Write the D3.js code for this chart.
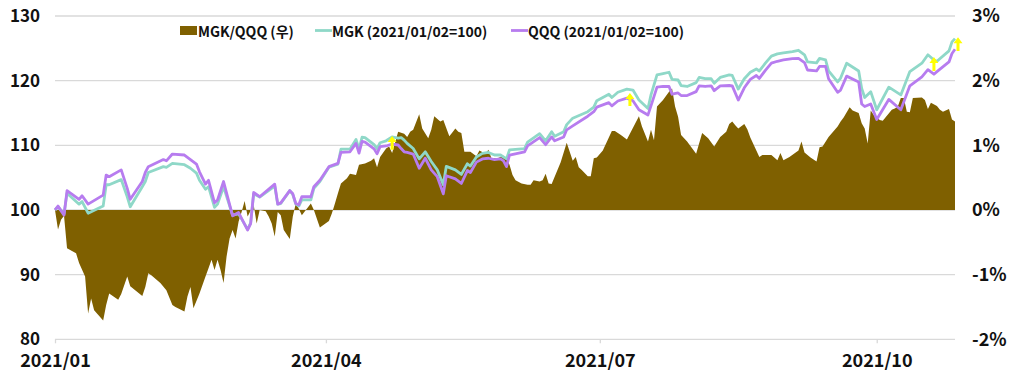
<!DOCTYPE html>
<html>
<head>
<meta charset="utf-8">
<script src="https://cdn.jsdelivr.net/npm/d3@7"></script>
<style>
body { margin: 0; background: #fff; }
text { font-family: 'Noto Sans CJK KR', 'Noto Sans', sans-serif; fill: #111; }
</style>
</head>
<body>
<div id="chart"></div>
<script>
// MGK / QQQ indexed to 2021/01/02 = 100, ratio on right axis (%)
var lineDates = [
	'01-01','01-02','01-04','01-05','01-09','01-10','01-12','01-17','01-18','01-19','01-23','01-25','01-26','01-30','01-31',
	'02-01','02-06','02-07','02-09','02-13','02-15','02-17','02-18','02-20','02-21','02-23','02-24','02-26',
	'03-01','03-03','03-06','03-07','03-08','03-10','03-15','03-16','03-17','03-20','03-21','03-22','03-23','03-24','03-27','03-28','03-30',
	'04-02','04-05','04-06','04-09','04-11','04-12','04-13','04-14','04-17','04-18','04-19','04-21','04-23','04-25','04-26','04-27','04-28','04-30',
	'05-02','05-04','05-06','05-08','05-10','05-11','05-14','05-16','05-18','05-19','05-21','05-23','05-25','05-27','05-29','05-30','05-31',
	'06-01','06-06','06-07','06-11','06-13','06-15','06-16','06-19','06-20','06-22','06-27','06-29','06-30',
	'07-04','07-05','07-07','07-10','07-12','07-14','07-17','07-18','07-20','07-22','07-24','07-25','07-27','07-28','07-30',
	'08-02','08-03','08-05','08-07','08-08','08-10','08-13','08-14','08-16','08-18','08-20','08-22','08-23','08-25','08-27','08-29','08-31',
	'09-03','09-05','09-07','09-08','09-11','09-12','09-14','09-15','09-18','09-19','09-21','09-25','09-26','09-27','09-29',
	'10-01','10-05','10-09','10-12','10-16','10-18','10-20','10-21','10-25','10-26','10-27'
];
var mgkValues = [
	100, 100.5, 99.4, 102.6, 100.9, 101.3, 99.5, 100.6, 103.9, 103.9, 104.7, 102.05, 100.5, 103.6, 104.4,
	105.8, 106.7, 106.6, 107.2, 107.0, 106.45, 105.7, 104.6, 103.2, 103.6, 100.4, 100.9, 103.6,
	99.2, 99.4, 97.0, 98.0, 102.5, 102.0, 103.7, 100.9, 101.0, 103.0, 102.4, 100.9, 100.6, 101.55, 101.55, 103.35, 104.4,
	106.6, 107.1, 109.4, 109.4, 110.9, 109.4, 111.25, 111.2, 110.1, 109.5, 110.4, 110.7, 111.3, 111.1, 111.2, 110.8, 110.3, 109.5,
	107.9, 109.0, 107.5, 106.2, 103.9, 106.75, 106.2, 105.5, 107.15, 106.8, 108.2, 108.75, 108.9, 108.5, 108.5, 108.2, 107.9,
	109.3, 109.5, 110.5, 111.8, 110.7, 112.1, 111.4, 112.1, 113.2, 114.2, 115.2, 115.9, 116.9,
	117.9, 117.4, 118.2, 118.7, 118.55, 117.0, 115.7, 117.8, 120.9, 121.1, 121.3, 120.2, 120.1, 119.25, 119.1,
	119.7, 120.5, 120.3, 120.3, 119.6, 120.5, 120.9, 120.8, 118.7, 120.3, 121.3, 121.8, 121.5, 122.7, 123.8, 124.15, 124.3,
	124.5, 124.7, 124.0, 122.9, 122.75, 123.45, 123.2, 121.5, 119.8, 120.4, 122.7, 121.5, 118.8, 117.4, 118.3,
	115.5, 119.0, 117.8, 121.4, 122.7, 124.0, 123.2, 123.0, 124.6, 126.0, 126.5
];
var qqqValues = [
	100, 100.6, 99.2, 103.0, 101.65, 102.2, 100.9, 102.3, 105.4, 105.15, 106.2, 103.35, 101.65, 104.4, 105.8,
	106.7, 107.8, 107.6, 108.65, 108.5, 107.8, 107.1, 105.9, 104.0, 104.6, 101.1, 101.55, 104.4,
	99.1, 99.6, 96.9, 97.9, 102.7, 102.05, 104.0, 100.9, 101.1, 103.0, 102.5, 101.0, 100.8, 102.05, 102.05, 103.6, 104.6,
	106.7, 107.2, 108.9, 109.0, 110.3, 108.8, 110.6, 110.5, 109.45, 108.7, 109.8, 109.9, 110.2, 110.05, 109.5, 109.0, 108.9, 108.65,
	106.45, 108.0, 106.2, 105.15, 102.5, 105.3, 104.8, 104.1, 106.1, 105.8, 107.4, 107.9, 108.0, 107.8, 107.9, 107.6, 106.7,
	108.5, 109.0, 109.9, 111.2, 110.1, 111.3, 110.7, 111.3, 112.4, 113.0, 114.5, 115.2, 115.9,
	116.6, 116.1, 116.85, 117.3, 116.9, 115.5, 114.7, 116.1, 119.0, 119.1, 119.1, 117.9, 118.1, 117.7, 117.7,
	118.3, 119.2, 119.1, 119.2, 118.45, 119.2, 119.25, 119.2, 117.0, 118.9, 120.2, 120.8, 120.35, 121.6, 122.7, 123.0, 123.2,
	123.4, 123.45, 122.8, 121.65, 121.5, 122.2, 122.2, 120.3, 118.2, 118.55, 120.7, 119.8, 116.4, 116.0, 116.4,
	114.0, 117.1, 115.5, 119.2, 120.6, 121.7, 121.0, 121.4, 122.9, 124.2, 124.85
];
var ratioDates = [
	'01-01','01-02','01-03','01-04','01-05','01-08','01-09','01-11','01-12','01-13','01-14','01-17','01-18','01-19','01-22','01-23','01-25','01-26','01-30','01-31',
	'02-01','02-02','02-05','02-07','02-09','02-10','02-13','02-14','02-15','02-16','02-18','02-20','02-21','02-22','02-23','02-24','02-25','02-26','02-27','02-28',
	'03-01','03-02','03-03','03-04','03-05','03-06','03-08','03-09','03-10','03-12','03-13','03-14','03-15','03-16','03-17','03-18','03-20','03-21','03-22','03-23','03-24','03-27','03-28','03-30',
	'04-02','04-03','04-04','04-05','04-06','04-08','04-09','04-11','04-12','04-14','04-16','04-17','04-18','04-19','04-21','04-22','04-23','04-25','04-27','04-28','04-29','04-30',
	'05-02','05-03','05-05','05-06','05-07','05-09','05-10','05-12','05-13','05-14','05-15','05-16','05-17','05-19','05-21','05-22','05-24','05-25','05-26','05-28','05-30','05-31',
	'06-01','06-02','06-03','06-05','06-07','06-08','06-09','06-11','06-12','06-13','06-14','06-15','06-18','06-20','06-22','06-23','06-24','06-25','06-27','06-28','06-29','06-30',
	'07-02','07-04','07-05','07-06','07-08','07-10','07-14','07-15','07-17','07-18','07-19','07-20','07-22','07-24','07-25','07-26','07-27','07-28','07-30',
	'08-02','08-04','08-06','08-08','08-10','08-12','08-13','08-14','08-15','08-16','08-18','08-19','08-20','08-23','08-24','08-27','08-29','08-30','08-31',
	'09-02','09-05','09-06','09-07','09-09','09-11','09-12','09-13','09-15','09-18','09-19','09-20','09-22','09-23','09-25','09-26','09-27','09-28','09-29','09-30',
	'10-02','10-03','10-06','10-07','10-08','10-09','10-10','10-11','10-12','10-13','10-16','10-17','10-18','10-19','10-21','10-22','10-23','10-25','10-26','10-27'
];
var ratioValues = [
	0, -0.30, -0.15, -0.09, -0.59, -0.67, -0.82, -1.03, -1.60, -1.37, -1.55, -1.71, -1.47, -1.29, -1.39, -1.30, -1.03, -1.18, -1.33, -1.19,
	-0.98, -1.01, -1.13, -1.24, -1.47, -1.50, -1.57, -1.34, -1.19, -1.52, -1.29, -1.03, -0.90, -0.77, -0.93, -0.77, -0.93, -1.13, -0.72, -0.44,
	-0.31, -0.44, -0.18, -0.03, 0.14, -0.10, 0.08, -0.21, 0, -0.02, -0.10, -0.21, -0.41, -0.03, -0.08, -0.31, -0.45, -0.10, 0.10, 0.02, -0.08, 0.10, 0, -0.27,
	-0.17, -0.05, 0.10, 0.26, 0.41, 0.49, 0.56, 0.54, 0.70, 0.72, 0.76, 0.80, 0.66, 0.82, 0.95, 0.98, 0.88, 1.21, 1.18, 1.13, 1.21, 1.24,
	1.48, 1.26, 1.11, 1.24, 1.45, 1.37, 1.39, 1.14, 1.20, 1.26, 1.21, 1.19, 0.90, 0.90, 0.83, 0.92, 0.87, 0.93, 0.80, 0.80, 0.84, 0.79,
	0.70, 0.54, 0.46, 0.41, 0.39, 0.39, 0.46, 0.44, 0.46, 0.56, 0.41, 0.40, 0.74, 1.04, 0.76, 0.82, 0.66, 0.62, 0.52, 0.52, 0.80, 0.81,
	0.92, 1.12, 1.22, 1.22, 1.16, 1.09, 1.45, 1.29, 1.06, 1.24, 1.08, 1.60, 1.70, 1.83, 1.88, 1.60, 1.44, 1.16, 1.06,
	0.87, 1.19, 1.11, 0.98, 1.13, 1.21, 1.33, 1.37, 1.31, 1.26, 1.33, 1.25, 1.12, 0.82, 0.85, 0.85, 0.77, 0.88, 0.77,
	0.82, 0.92, 1.06, 0.89, 0.81, 0.75, 0.97, 0.98, 1.13, 1.29, 1.37, 1.43, 1.59, 1.54, 1.50, 1.34, 1.26, 1.03, 1.54, 1.47,
	1.39, 1.38, 1.55, 1.57, 1.60, 1.73, 1.73, 1.52, 1.51, 1.73, 1.74, 1.70, 1.56, 1.66, 1.61, 1.55, 1.52, 1.56, 1.40, 1.37
];
var leftTicks = [80, 90, 100, 110, 120, 130];
var rightTicks = [-2, -1, 0, 1, 2, 3];
var monthTicks = ['01-01', '04-01', '07-01', '10-01'];
var arrowDates = ['04-23', '07-11', '10-20', '10-28'];
var arrowTips = [111.45, 118.1, 123.65, 126.7];
var arrowTails = [109.3, 116.1, 121.5, 124.6];
var legendLabels = ['MGK/QQQ (우)', 'MGK (2021/01/02=100)', 'QQQ (2021/01/02=100)'];

var parse = function(s) { return d3.timeParse('%Y-%m-%d')('2021-' + s); };

var colors = {ratio: '#7f6000', mgk: '#8fd8c8', qqq: '#b77cef', arrow: '#ffff00', grid: '#d9d9d9'};

var width = 1015, height = 378;
var plotLeft = 55, plotRight = 955, plotTop = 16, plotBottom = 339.3;

var svg = d3.select('#chart')
	.append('svg')
	.attr('width', width)
	.attr('height', height);

var x = d3.scaleTime()
	.domain([parse('01-01'), parse('10-27')])
	.range([plotLeft, plotRight]);
var yLeft = d3.scaleLinear().domain([80, 130]).range([plotBottom, plotTop]);
var yRight = d3.scaleLinear().domain([-2, 3]).range([plotBottom, plotTop]);

// grid
svg.append('g')
	.selectAll('line')
	.data(leftTicks)
	.enter()
	.append('line')
	.attr('x1', plotLeft)
	.attr('x2', plotRight)
	.attr('y1', function(d) { return yLeft(d); })
	.attr('y2', function(d) { return yLeft(d); })
	.attr('stroke', colors.grid)
	.attr('stroke-width', 1.3);

var ratio = ratioDates.map(function(d, i) { return {date: parse(d), value: ratioValues[i]}; });
var mgk = lineDates.map(function(d, i) { return {date: parse(d), value: mgkValues[i]}; });
var qqq = lineDates.map(function(d, i) { return {date: parse(d), value: qqqValues[i]}; });

svg.append('path')
	.datum(ratio)
	.attr('fill', colors.ratio)
	.attr('d', d3.area()
		.x(function(d) { return x(d.date); })
		.y0(yRight(0))
		.y1(function(d) { return yRight(d.value); }));

var line = d3.line()
	.x(function(d) { return x(d.date); })
	.y(function(d) { return yLeft(d.value); });

svg.append('path')
	.datum(mgk)
	.attr('fill', 'none')
	.attr('stroke', colors.mgk)
	.attr('stroke-width', 2.8)
	.attr('stroke-linejoin', 'round')
	.attr('d', line);

svg.append('path')
	.datum(qqq)
	.attr('fill', 'none')
	.attr('stroke', colors.qqq)
	.attr('stroke-width', 2.8)
	.attr('stroke-linejoin', 'round')
	.attr('d', line);

// yellow up arrows
svg.append('g')
	.selectAll('path')
	.data(arrowDates)
	.enter()
	.append('path')
	.attr('fill', colors.arrow)
	.attr('d', function(d, i) {
		var ax = x(parse(d)), t = yLeft(arrowTips[i]), b = yLeft(arrowTails[i]);
		return 'M' + ax + ',' + t + 'L' + (ax + 4.5) + ',' + (t + 6) + 'L' + (ax + 1.5) + ',' + (t + 6) +
			'L' + (ax + 1.5) + ',' + b + 'L' + (ax - 1.5) + ',' + b + 'L' + (ax - 1.5) + ',' + (t + 6) +
			'L' + (ax - 4.5) + ',' + (t + 6) + 'Z';
	});

// axes
var gl = svg.append('g')
	.attr('transform', 'translate(' + plotLeft + ',0)')
	.call(d3.axisLeft(yLeft).tickValues(leftTicks).tickSize(0).tickPadding(15));
gl.select('.domain').remove();
gl.selectAll('text').style('font-size', '17px').style('font-weight', 'bold').style('font-family', null);

var gr = svg.append('g')
	.attr('transform', 'translate(' + plotRight + ',0)')
	.call(d3.axisRight(yRight).tickValues(rightTicks).tickSize(0).tickPadding(17)
		.tickFormat(function(d) { return d + '%'; }));
gr.select('.domain').remove();
gr.selectAll('text').style('font-size', '18px').style('font-weight', 'bold').style('font-family', null);

var gb = svg.append('g')
	.attr('transform', 'translate(0,' + plotBottom + ')')
	.call(d3.axisBottom(x).tickValues(monthTicks.map(parse)).tickSize(4).tickPadding(11)
		.tickFormat(d3.timeFormat('%Y/%m')));
gb.select('.domain').remove();
gb.selectAll('line').attr('stroke', colors.grid).attr('stroke-width', 1.3);
gb.selectAll('text').style('font-size', '18px').style('font-weight', 'bold').style('font-family', null);

// legend
var legend = svg.append('g').attr('class', 'legend');
legend.append('rect')
	.attr('x', 180).attr('y', 26).attr('width', 17).attr('height', 9)
	.attr('fill', colors.ratio);
legend.append('line')
	.attr('x1', 315).attr('x2', 332).attr('y1', 30.5).attr('y2', 30.5)
	.attr('stroke', colors.mgk).attr('stroke-width', 2.8);
legend.append('line')
	.attr('x1', 511).attr('x2', 528).attr('y1', 30.5).attr('y2', 30.5)
	.attr('stroke', colors.qqq).attr('stroke-width', 2.8);
legend.selectAll('text')
	.data(legendLabels)
	.enter()
	.append('text')
	.attr('x', function(d, i) { return [198, 332, 528][i]; })
	.attr('y', 31)
	.attr('dominant-baseline', 'central')
	.style('font-size', '14px')
	.style('font-weight', 'bold')
	.text(function(d) { return d; });
</script>
</body>
</html>
